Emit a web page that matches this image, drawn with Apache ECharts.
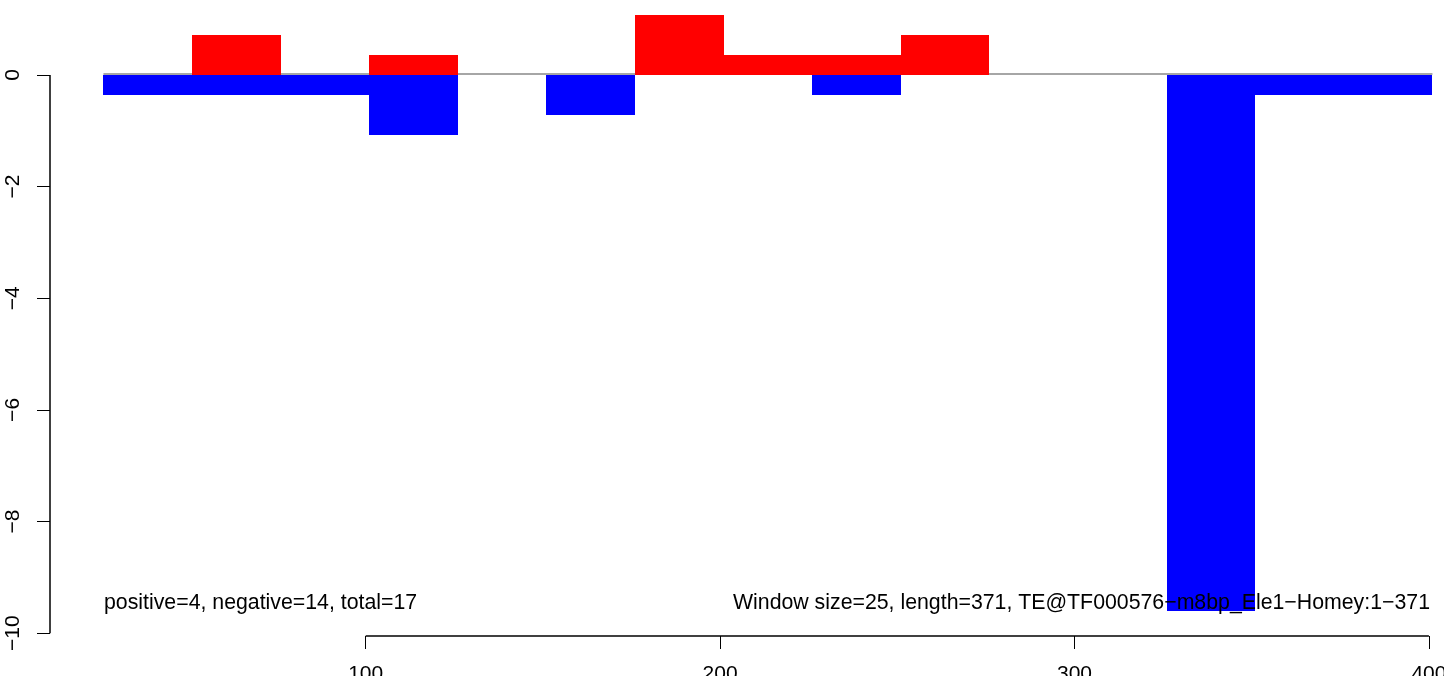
<!DOCTYPE html>
<html>
<head>
<meta charset="utf-8">
<script src="https://cdn.jsdelivr.net/npm/echarts@6/dist/echarts.min.js"></script>
<style>
html,body{margin:0;padding:0;background:#fff;}
#chart{width:1444px;height:676px;}
</style>
</head>
<body>
<div id="chart"></div>
<script>
// ---- data ----
const binStart = [26, 51, 76, 101, 126, 151, 176, 201, 226, 251, 276, 301, 326, 351, 376];
const binEnd   = [51, 76, 101, 126, 151, 176, 201, 226, 251, 276, 301, 326, 351, 376, 401];
const positive = [0, 0.714, 0, 0.357, 0, 0, 1.071, 0.357, 0.357, 0.714, 0, 0, 0, 0, 0];
const negative = [-0.357, -0.357, -0.357, -1.071, 0, -0.714, 0, 0, -0.357, 0, 0, 0, -9.6, -0.357, -0.357];
const xTicks = [100, 200, 300, 400];
const yTicks = [0, -2, -4, -6, -8, -10];
const baselineExtent = [26, 401];
const leftNote = 'positive=4, negative=14, total=17';
const rightNote = 'Window size=25, length=371, TE@TF000576\u2212m8bp_Ele1\u2212Homey:1\u2212371';

// ---- view ranges ----
const xMin = 10.92, xMax = 404.26;
const yMin = -10.05, yMax = 1.343;

const chart = echarts.init(document.getElementById('chart'), null, {renderer: 'canvas'});

function rows(vals) {
  return vals.map((v, i) => [binStart[i], binEnd[i], v]);
}

function barItem(params, api) {
  const v = api.value(2);
  if (!v) return null;
  const a = api.coord([api.value(0), 0]);
  const b = api.coord([api.value(1), v]);
  const x0 = Math.round(a[0]), x1 = Math.round(b[0]);
  const y0 = Math.round(Math.min(a[1], b[1])), y1 = Math.round(Math.max(a[1], b[1]));
  return {
    type: 'rect',
    shape: {x: x0, y: y0, width: x1 - x0, height: y1 - y0},
    style: {fill: api.visual('color')}
  };
}

const fontFamily = '"Liberation Sans", Arial, Helvetica, sans-serif';
const minus = v => String(v).replace('-', '\u2212');

chart.setOption({
  animation: false,
  backgroundColor: '#ffffff',
  grid: {left: 50, right: 0, top: 0, bottom: 40, containLabel: false, outerBoundsMode: 'none'},
  xAxis: {
    type: 'value', min: xMin, max: xMax,
    axisLine: {show: false, onZero: false},
    splitLine: {show: false},
    axisTick: {show: true, length: 13, customValues: xTicks, lineStyle: {color: '#000', width: 1}},
    axisLabel: {show: true, customValues: xTicks, margin: 28, color: '#000', fontSize: 21, fontFamily: fontFamily, hideOverlap: false, showMaxLabel: true}
  },
  yAxis: {
    type: 'value', min: yMin, max: yMax,
    axisLine: {show: false, onZero: false},
    splitLine: {show: false},
    axisTick: {show: true, length: 13, customValues: yTicks, lineStyle: {color: '#000', width: 1}},
    axisLabel: {show: true, customValues: yTicks, rotate: 90, margin: 26, color: '#000', fontSize: 21, fontFamily: fontFamily, formatter: minus}
  },
  series: [
    {
      type: 'custom', name: 'baseline', z: 1, clip: false, silent: true,
      data: [[baselineExtent[0], baselineExtent[1]]],
      renderItem: function (params, api) {
        const a = api.coord([api.value(0), 0]);
        const b = api.coord([api.value(1), 0]);
        return {type: 'line', shape: {x1: a[0], y1: a[1] - 1, x2: b[0], y2: b[1] - 1}, style: {stroke: '#a6a6a6', lineWidth: 2}};
      },
      markLine: {
        silent: true, symbol: 'none', animation: false,
        label: {show: false},
        lineStyle: {color: '#000', width: 1.5, type: 'solid'},
        data: [
          [{coord: [xTicks[0], yMin]}, {coord: [xTicks[xTicks.length - 1], yMin]}],
          [{coord: [xMin, yTicks[0]]}, {coord: [xMin, yTicks[yTicks.length - 1]]}]
        ]
      }
    },
    {
      type: 'custom', name: 'positive', z: 2, clip: false,
      itemStyle: {color: '#ff0000'},
      encode: {x: [0, 1], y: 2},
      data: rows(positive),
      renderItem: barItem
    },
    {
      type: 'custom', name: 'negative', z: 2, clip: false,
      itemStyle: {color: '#0000ff'},
      encode: {x: [0, 1], y: 2},
      data: rows(negative),
      renderItem: barItem
    }
  ],
  graphic: [
    {type: 'text', z: 100, left: 104, top: 593, style: {text: leftNote, fill: '#000', font: '21.3px ' + fontFamily}},
    {type: 'text', z: 100, right: 14, top: 593, style: {text: rightNote, fill: '#000', font: '21.3px ' + fontFamily}}
  ]
});
</script>
</body>
</html>
